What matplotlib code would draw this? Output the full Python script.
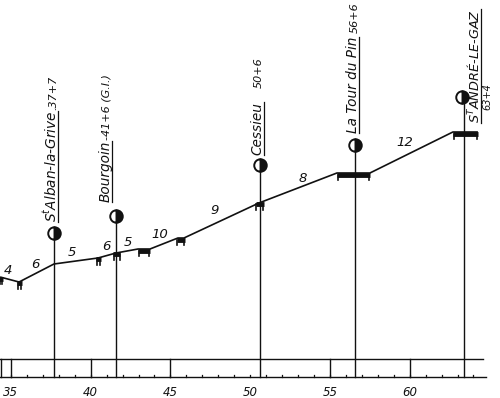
import matplotlib
matplotlib.use('Agg')
import matplotlib.pyplot as plt

# profile of the line (km, height in drawing units)
prof_km = [34.32, 35.51, 37.70, 40.46, 41.59, 42.97, 43.72, 45.47, 45.85, 50.55, 55.44, 57.51, 62.71, 64.28]
prof_alt = [121, 116, 134, 140, 145, 149, 149, 160, 160, 195, 225, 225, 266, 266]

# gradients (mm/m) and where they are written
grad_vals = ["4", "6", "5", "6", "5", "10", "9", "8", "12"]
grad_km = [34.82, 36.51, 38.83, 40.96, 42.34, 44.35, 47.80, 53.30, 59.70]
grad_alt = [128, 133, 145, 151, 156, 163, 188, 220, 255]

# short level pieces / breaks marked on the profile
level_start = [34.25, 35.40, 40.35, 41.40, 42.97, 45.40, 50.35, 55.44, 62.71]
level_end = [34.50, 35.70, 40.65, 41.85, 43.72, 45.90, 50.85, 57.51, 64.28]

# stations
stations = ["S$^t$Alban-la-Grive", "Bourgoin", "Cessieu", "La Tour du Pin", "S$^T$ANDRÉ-LE-GAZ"]
station_pk = [".37+7", "-41+6 (G.I.)", "50+6", "56+6", "63+4"]
station_km = [37.7, 41.6, 50.6, 56.6, 63.4]
station_alt = [165, 182, 233, 253, 301]

km_ticks = [35, 40, 45, 50, 55, 60]

PX = 15.95  # px per km
X0 = 35 - 10.9 / PX

fig = plt.figure(figsize=(5, 3.98), dpi=100)
ax = fig.add_axes([0, 0, 1, 1])
ax.set_xlim(X0, X0 + 500 / PX)
ax.set_ylim(0, 398)
ax.axis('off')

ink = '#111111'
hand = dict(family='DejaVu Sans', style='italic', color=ink)

ax.plot(prof_km, prof_alt, color=ink, lw=1.2, solid_capstyle='butt')


def alt_at(k):
    for i in range(len(prof_km) - 1):
        if prof_km[i] <= k <= prof_km[i + 1]:
            t = (k - prof_km[i]) / (prof_km[i + 1] - prof_km[i])
            return prof_alt[i] + t * (prof_alt[i + 1] - prof_alt[i])
    return prof_alt[0] if k < prof_km[0] else prof_alt[-1]


for a, b in zip(level_start, level_end):
    y = alt_at((a + b) / 2)
    ax.plot([a, b], [y - 1.5, y - 1.5], color=ink, lw=3.5, solid_capstyle='butt')
    ax.plot([a + 0.04, a + 0.04], [y - 1.5, y - 7], color=ink, lw=1.2)
    ax.plot([b - 0.04, b - 0.04], [y - 1.5, y - 7], color=ink, lw=1.2)

for g, k, y in zip(grad_vals, grad_km, grad_alt):
    ax.text(k, y, g, ha='center', va='center', fontsize=9.5, **hand)

# distance band at the bottom
band_top, band_bot = 39, 21
ax.plot([X0, X0 + 483 / PX], [band_top, band_top], color=ink, lw=1.0)
ax.plot([X0, X0 + 486 / PX], [band_bot, band_bot], color=ink, lw=1.0)
for k in range(35, 65):
    ax.plot([k, k], [band_bot, band_bot + 1.8], color=ink, lw=0.9)
for k in km_ticks:
    if k != 50:
        ax.plot([k, k], [band_bot, band_top], color=ink, lw=1.0)
    ax.text(k, 5, str(k), ha='center', va='center', fontsize=8.5, **hand)
ax.plot([X0 + 1 / PX] * 2, [band_bot, band_top], color=ink, lw=1.0)

# stations: vertical line, half-black circle, rotated name + kilometre point
name_dx = [2.5, -6.5, 2.0, 2.0, 15.0]   # baseline offset from station line, px
name_y0 = [176, 196, 243, 265, 275]    # where the name starts (drawing units)
name_fs = [9.8, 9.8, 9.8, 9.8, 9.3]
pk_gap = [1, 1, 14, 4, None]

fig.canvas.draw()
r = fig.canvas.get_renderer()
inv = ax.transData.inverted()

for i, (nm, pk, k, y) in enumerate(zip(stations, station_pk, station_km, station_alt)):
    ax.plot([k, k], [band_bot, y - 6.5], color=ink, lw=1.0)
    ax.plot(k - 1.5 / PX if i == 4 else k, y, marker='o', ms=9, mew=1.4, mec=ink, mfc=ink,
            fillstyle='right', markerfacecoloralt='white')
    bx = k + name_dx[i] / PX
    t = ax.text(bx, name_y0[i], nm, rotation=90, rotation_mode='anchor',
                ha='left', va='baseline', fontsize=name_fs[i], **hand)
    bb = t.get_window_extent(r)
    (x0, y0), (x1, y1) = inv.transform([[bb.x0, bb.y0], [bb.x1, bb.y1]])
    ax.plot([bx + 2 / PX] * 2, [y0, y1], color=ink, lw=0.9)
    if pk_gap[i] is None:
        ax.text(bx + 11.5 / PX, y0 + 13, pk, rotation=90, rotation_mode='anchor',
                ha='left', va='baseline', fontsize=7, **hand)
    else:
        ax.text(bx, y1 + pk_gap[i], pk, rotation=90, rotation_mode='anchor',
                ha='left', va='baseline', fontsize=8, **hand)

fig.savefig('out.png', dpi=100, facecolor='white')
